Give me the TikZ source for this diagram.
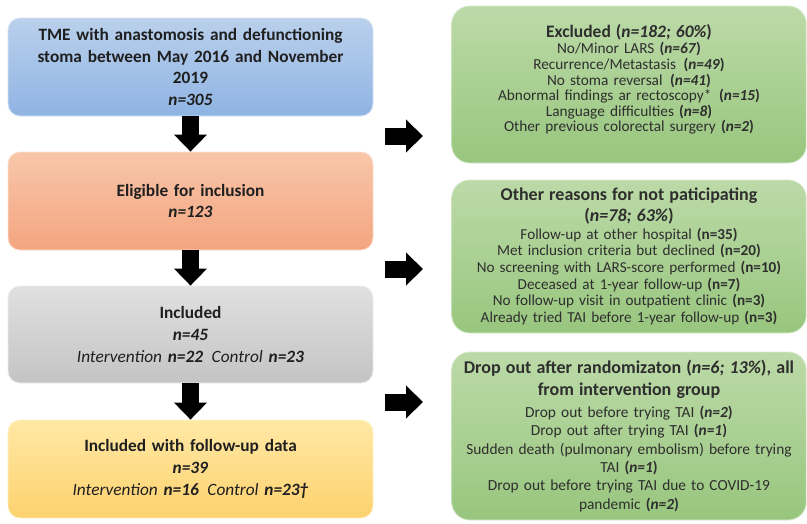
\documentclass[tikz,border=0pt]{standalone}
\usepackage{fontspec}
\setmainfont{Carlito}
\usetikzlibrary{arrows.meta,calc}

\definecolor{blueT}{RGB}{186,208,236}
\definecolor{blueB}{RGB}{143,180,227}
\definecolor{orangeT}{RGB}{248,198,170}
\definecolor{orangeB}{RGB}{244,165,128}
\definecolor{greyT}{RGB}{224,224,224}
\definecolor{greyB}{RGB}{196,196,196}
\definecolor{yellowT}{RGB}{255,232,165}
\definecolor{yellowB}{RGB}{253,210,110}
\definecolor{greenT}{RGB}{188,218,168}
\definecolor{greenB}{RGB}{152,198,126}

\newcommand{\bigtitle}{\fontsize{18}{22}\selectfont\bfseries}

\tikzset{
  leftbox/.style={rounded corners=12pt, minimum width=365pt, minimum height=98pt,
    text width=358pt, align=center, top color=#1T, bottom color=#1B,
    draw=#1T!60!white, line width=0.8pt, text=black!88,
    font=\fontsize{17.3}{21.7}\selectfont},
  rightbox/.style={rounded corners=18pt, minimum width=352pt, minimum height=#1,
    text width=348pt, align=center, top color=greenT, bottom color=greenB,
    draw=greenT!60!white, line width=0.8pt, text=black!82},
  blockarrow/.style={line width=17pt, -{Triangle[length=17pt,width=32pt]}}
}

\begin{document}
\begin{tikzpicture}[x=1pt,y=-1pt]
  \useasboundingbox (0,0) rectangle (807,523);

  %%%%% left column %%%%%
  \node[leftbox=blue] (tme) at (190.5,67) {\bfseries TME with anastomosis and defunctioning\\stoma between May 2016 and November\\2019\\\textit{n=305}};
  \node[leftbox=orange] (elig) at (190.5,201) {\bfseries Eligible for inclusion\\\textit{n=123}};
  \node[leftbox=grey, minimum height=97pt] (incl) at (190.5,334.5) {\textbf{Included}\\\textbf{\textit{n=45}}\\\textit{Intervention \textbf{n=22}\enspace Control \textbf{n=23}}};
  \node[leftbox=yellow] (fup) at (190.5,469) {\textbf{Included with follow-up data}\\\textbf{\textit{n=39}}\\\textit{Intervention \textbf{n=16}\enspace Control \textbf{n=23\textdagger}}};

  \draw[blockarrow] (tme.south) -- (elig.north);
  \draw[blockarrow] (elig.south) -- (incl.north);
  \draw[blockarrow] (incl.south) -- (fup.north);

  %%%%% right column %%%%%
  \node[rightbox=157pt, font=\fontsize{15.3}{15.6}\selectfont] (excl) at (629,84.5) {{\fontsize{17.5}{18}\selectfont\bfseries Excluded (\textit{n=182; 60\%})}\\[1pt]
    No/Minor LARS \textbf{(\textit{n=67})}\\
    Recurrence/Metastasis\enspace\textbf{(\textit{n=49})}\\
    No stoma reversal\enspace\textbf{(\textit{n=41})}\\
    Abnormal findings ar rectoscopy*\enspace\textbf{(\textit{n=15})}\\
    Language difficulties \textbf{(\textit{n=8})}\\
    Other previous colorectal surgery \textbf{(\textit{n=2})}\\[-3pt]\mbox{}};
  \node[rightbox=153pt, font=\fontsize{15.2}{16.7}\selectfont] (other) at (629,256.5) {{\bigtitle Other reasons for not paticipating}\\[4pt]
    {\bigtitle (\textit{n=78; 63\%})}\\[1pt]
    Follow-up at other hospital \textbf{(n=35)}\\
    Met inclusion criteria but declined \textbf{(n=20)}\\
    No screening with LARS-score performed \textbf{(n=10)}\\
    Deceased at 1-year follow-up \textbf{(n=7)}\\
    No follow-up visit in outpatient clinic \textbf{(n=3)}\\
    Already tried TAI before 1-year follow-up \textbf{(n=3)}};
  \node[rightbox=168pt, font=\fontsize{15.4}{18.4}\selectfont] (drop) at (629,436) {{\bigtitle Drop out after randomizaton (\textit{n=6; 13\%}), all}\\[4pt]
    {\bigtitle from intervention group}\\[3pt]
    Drop out before trying TAI \textbf{(\textit{n=2})}\\
    Drop out after trying TAI \textbf{(\textit{n=1})}\\
    Sudden death (pulmonary embolism) before trying\\
    TAI \textbf{(\textit{n=1})}\\
    Drop out before trying TAI due to COVID-19\\
    pandemic \textbf{(\textit{n=2})}};

  \coordinate (a1) at (385,136);  \coordinate (b1) at (423,136);
  \coordinate (a2) at (385,269);  \coordinate (b2) at (423,269);
  \coordinate (a3) at (385,402);  \coordinate (b3) at (423,402);
  \draw[blockarrow] (a1) -- (b1);
  \draw[blockarrow] (a2) -- (b2);
  \draw[blockarrow] (a3) -- (b3);
\end{tikzpicture}
\end{document}
